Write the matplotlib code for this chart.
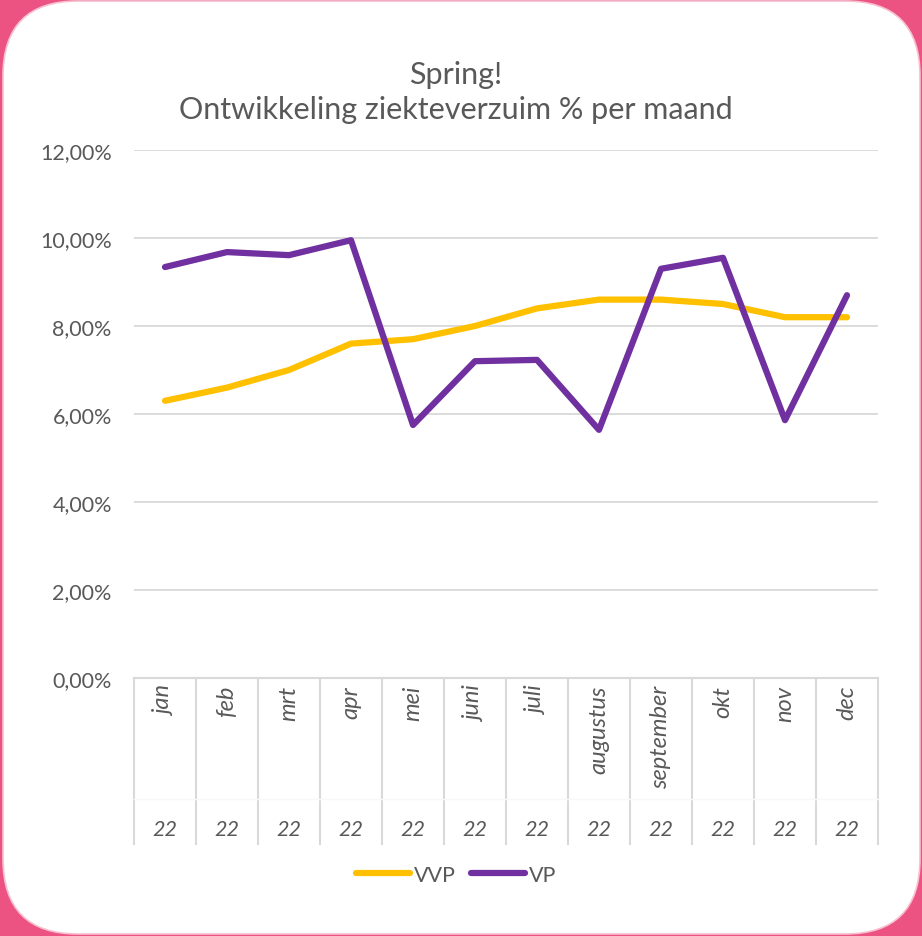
import numpy as np
import matplotlib.pyplot as plt
from matplotlib.patches import FancyBboxPatch

plt.rcParams['font.family'] = ['Lato', 'DejaVu Sans']

months = ['jan', 'feb', 'mrt', 'apr', 'mei', 'juni', 'juli', 'augustus',
          'september', 'okt', 'nov', 'dec']
year_label = '22'
vvp = [6.3, 6.6, 7.0, 7.6, 7.7, 8.0, 8.4, 8.6, 8.6, 8.5, 8.2, 8.2]
vp = [9.34, 9.68, 9.61, 9.95, 5.75, 7.2, 7.23, 5.64, 9.3, 9.55, 5.86, 8.7]
yticks = [0, 2, 4, 6, 8, 10, 12]

TEXT = '#595959'
GRID = '#D9D9D9'

W, H = 922, 937
fig = plt.figure(figsize=(W / 100, H / 100), dpi=100)
fig.patch.set_facecolor('#EC5282')

# white rounded card behind everything
card = FancyBboxPatch((3, 2), W - 5, H - 4,
                      boxstyle='round,pad=0,rounding_size=75',
                      transform=None, facecolor='white',
                      edgecolor='#F7BFCF', linewidth=1.2, zorder=-10)
fig.patches.append(card)

# plot area in pixel coords -> figure fraction
x0, x1 = 134, 878
y_top, y_bot = 151, 679
ax = fig.add_axes([x0 / W, 1 - y_bot / H, (x1 - x0) / W, (y_bot - y_top) / H])
ax.set_facecolor('none')

x = np.arange(len(months))
ax.plot(x, np.array(vvp) / 100, color='#FFC000', lw=4.5, solid_capstyle='round',
        solid_joinstyle='round', label='VVP', zorder=3)
ax.plot(x, np.array(vp) / 100, color='#7030A0', lw=4.5, solid_capstyle='round',
        solid_joinstyle='round', label='VP', zorder=4)

ax.set_xlim(-0.5, len(months) - 0.5)
ax.set_ylim(0, 0.12)
ax.set_yticks([t / 100 for t in yticks])
ax.set_yticklabels([f'{t:.2f}%'.replace('.', ',') for t in yticks])
ax.tick_params(axis='y', length=0, pad=16, labelsize=15.5, labelcolor=TEXT)
ax.set_xticks([])
ax.grid(axis='y', color=GRID, lw=1.3)
ax.set_axisbelow(True)
for s in ax.spines.values():
    s.set_visible(False)

# category axis below the plot: separators, month row, year row
trans = ax.get_xaxis_transform()
sep_bottom = -(845 - y_bot) / (y_bot - y_top)
row_div = -(800 - y_bot) / (y_bot - y_top)
for b in np.arange(-0.5, len(months)):
    ax.plot([b, b], [0, sep_bottom], transform=trans, color=GRID, lw=1.5,
            clip_on=False)
ax.plot([-0.5, len(months) - 0.5], [0, 0], transform=trans, color=GRID, lw=1.5,
        clip_on=False)
ax.plot([-0.5, len(months) - 0.5], [row_div, row_div], transform=trans,
        color='#F8F8F8', lw=1, clip_on=False)

month_y = -(686 - y_bot) / (y_bot - y_top)
year_y = -(830 - y_bot) / (y_bot - y_top)
for i, m in enumerate(months):
    ax.text(i, month_y, m, transform=trans, rotation=90, ha='center', va='top',
            fontsize=17, style='italic', color=TEXT)
    ax.text(i, year_y, year_label, transform=trans, ha='center', va='center',
            fontsize=15.5, style='italic', color=TEXT)

fig.text(456 / W, 1 - 75 / H, 'Spring!', ha='center', va='center',
         fontsize=22, color=TEXT)
fig.text(456 / W, 1 - 110 / H, 'Ontwikkeling ziekteverzuim % per maand',
         ha='center', va='center', fontsize=22, color=TEXT)

fig.legend(loc='center', bbox_to_anchor=(456 / W, 1 - 876 / H), ncol=2,
           frameon=False, fontsize=15.5, labelcolor=TEXT, handlelength=2.5,
           handletextpad=0.2, columnspacing=0.7)

fig.savefig('out.png', dpi=100, facecolor=fig.get_facecolor())
